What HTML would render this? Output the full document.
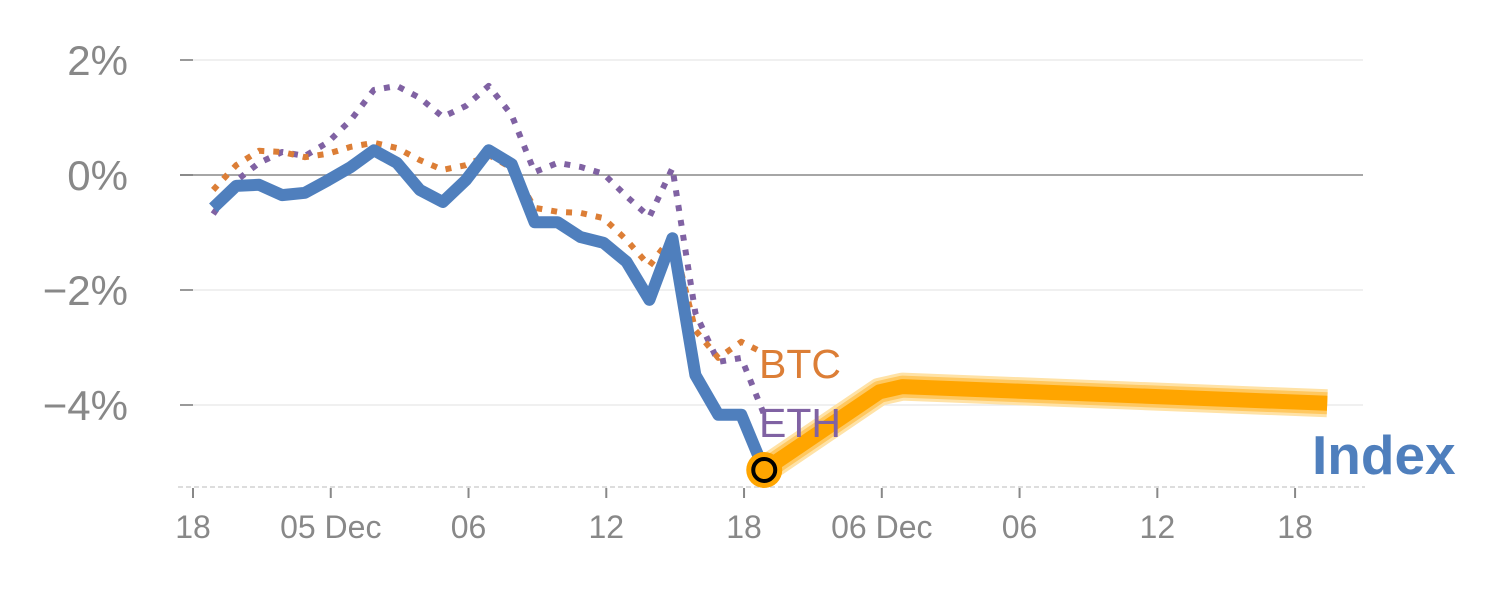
<!DOCTYPE html>
<html><head><meta charset="utf-8"><style>
body{margin:0;background:#fff}
svg text{font-family:"Liberation Sans",Arial,sans-serif}
</style></head><body>
<svg id="chart" width="1500" height="600" viewBox="0 0 1500 600" xmlns="http://www.w3.org/2000/svg">
<g id="grid"></g>
<g id="axes"></g>
<g id="series"></g>
<text x="759" y="378" font-size="41" fill="#dc7e36">BTC</text>
<text x="759" y="437" font-size="41" fill="#8062a3">ETH</text>
<text x="1312" y="474" font-size="55" font-weight="bold" fill="#4f7fbd">Index</text>
</svg>
<script>
const yTicks = [2, 0, -2, -4];
const yTickLabels = ["2%", "0%", "\u22122%", "\u22124%"];
const xTicks = [0, 6, 12, 18, 24, 30, 36, 42, 48];
const xTickLabels = ["18", "05 Dec", "06", "12", "18", "06 Dec", "06", "12", "18"];
const startHour = 0.88;
const indexValues = [-0.57,-0.19,-0.17,-0.35,-0.31,-0.09,0.14,0.43,0.21,-0.26,-0.47,-0.09,0.43,0.19,-0.82,-0.82,-1.08,-1.18,-1.51,-2.17,-1.1,-3.48,-4.17,-4.17,-5.13];
const btcValues = [-0.26,0.17,0.42,0.40,0.31,0.37,0.49,0.56,0.47,0.26,0.09,0.17,0.35,0.12,-0.57,-0.64,-0.66,-0.75,-1.13,-1.58,-1.06,-2.70,-3.18,-2.90,-3.10];
const ethValues = [-0.68,-0.10,0.21,0.40,0.33,0.57,0.96,1.48,1.55,1.34,1.01,1.20,1.55,1.04,0.05,0.21,0.14,0.02,-0.37,-0.73,0.12,-2.40,-3.25,-3.18,-4.17];
const forecastHours = [24.88, 29.9, 30.9, 49.4];
const forecastValues = [-5.13, -3.77, -3.68, -3.97];

const NS = "http://www.w3.org/2000/svg";
const xS = h => 193 + 22.96 * h;
const yS = v => 175 - 57.5 * v;
function mk(tag, attrs, parent){const e=document.createElementNS(NS,tag);for(const k in attrs)e.setAttribute(k,attrs[k]);parent.appendChild(e);return e;}
const grid=document.getElementById('grid'), axes=document.getElementById('axes'), series=document.getElementById('series');

yTicks.forEach((v,i)=>{
  const y=yS(v);
  const g=mk('line',{x1:v===0?180:193,x2:1363,y1:y,y2:y,stroke:v===0?'#888':'#e6e6e6','stroke-width':v===0?1.5:1.2},grid);
  
  
  const t=mk('line',{x1:180,x2:193,y1:y,y2:y,stroke:'#777','stroke-width':1.5},axes);
  
  
  const l=mk('text',{x:128,y:y+15,'font-size':42,fill:'#888','text-anchor':'end'},axes);
  l.textContent=yTickLabels[i];
  
  
});
const base=mk('line',{x1:178,x2:1365,y1:487,y2:487,stroke:'#ddd','stroke-width':2,'stroke-dasharray':'5,3'},axes);


xTicks.forEach((h,i)=>{
  const x=xS(h);
  const t=mk('line',{x1:x,x2:x,y1:488,y2:498,stroke:'#888','stroke-width':2},axes);
  
  
  const l=mk('text',{x:x,y:538,'font-size':32,fill:'#888','text-anchor':'middle'},axes);
  l.textContent=xTickLabels[i];
  
  
});
const pts=(vals,hrs)=>vals.map((v,i)=>xS(hrs?hrs[i]:startHour+i).toFixed(1)+','+yS(v).toFixed(1)).join(' ');

[['#ffe2a6',28],['#ffc860',22],['#ffa500',15]].forEach(([c,w])=>{
  const p=mk('polyline',{points:pts(forecastValues,forecastHours),fill:'none',stroke:c,'stroke-width':w,'stroke-linejoin':'round','stroke-linecap':'butt'},series);
  
  
});
const eth=mk('polyline',{points:pts(ethValues),fill:'none',stroke:'#8062a3','stroke-width':6,'stroke-dasharray':'6,9','stroke-linejoin':'round'},series);


const btc=mk('polyline',{points:pts(btcValues),fill:'none',stroke:'#dc7e36','stroke-width':6,'stroke-dasharray':'6,9','stroke-linejoin':'round'},series);


const idx=mk('polyline',{points:pts(indexValues),fill:'none',stroke:'#4f7fbd','stroke-width':12,'stroke-linejoin':'round'},series);


const lx=xS(startHour+indexValues.length-1), ly=yS(indexValues[indexValues.length-1]);
const m1=mk('circle',{cx:lx,cy:ly,r:18,fill:'#ffa500'},series);


const m2=mk('circle',{cx:lx,cy:ly,r:11,fill:'#ffa500',stroke:'#000','stroke-width':4},series);


</script>
</body></html>
